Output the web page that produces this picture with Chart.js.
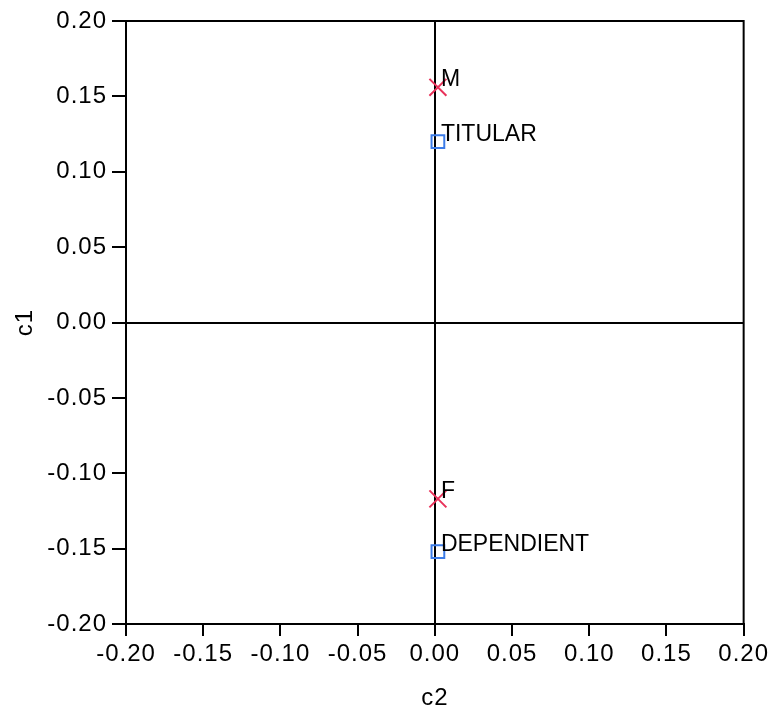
<!DOCTYPE html>
<html><head><meta charset="utf-8">
<script src="https://cdn.jsdelivr.net/npm/chart.js@4/dist/chart.umd.min.js"></script>
<style>html,body{margin:0;padding:0;background:#fff}#wrap{width:773px;height:713px}</style>
</head><body><div id="wrap"><canvas id="c"></canvas></div>
<script>
const sexLabels = ['M', 'F'];
const sexC2 = [0.002, 0.002];
const sexC1 = [0.156, -0.117];
const typeLabels = ['TITULAR', 'DEPENDIENT'];
const typeC2 = [0.002, 0.002];
const typeC1 = [0.120, -0.152];
const tickValues = [-0.20, -0.15, -0.10, -0.05, 0.00, 0.05, 0.10, 0.15, 0.20];

const FONT = '"Liberation Sans", Arial, Helvetica, sans-serif';
const FS = 24;
const LFS = 23;

const spacingPlugin = {
  id: 'spacing',
  beforeUpdate(chart) { chart.ctx.letterSpacing = '1px'; },
  beforeDraw(chart) { chart.ctx.letterSpacing = '1px'; }
};

const framePlugin = {
  id: 'frame',
  afterDatasetsDraw(chart) {
    const {ctx, chartArea: a} = chart;
    ctx.save();
    ctx.strokeStyle = '#000'; ctx.lineWidth = 2;
    ctx.strokeRect(a.left, a.top, a.right - a.left, a.bottom - a.top);
    ctx.fillStyle = '#000';
    ctx.letterSpacing = '0px';
    ctx.font = LFS + 'px ' + FONT;
    ctx.textAlign = 'left'; ctx.textBaseline = 'alphabetic';
    chart.data.datasets.forEach((ds, i) => {
      const meta = chart.getDatasetMeta(i);
      meta.data.forEach((el, j) => {
        ctx.fillText(ds.pointLabels[j], el.x + 3, el.y - 1);
      });
    });
    ctx.restore();
  }
};

const mk = (xs, ys) => xs.map((x, i) => ({x, y: ys[i]}));

new Chart(document.getElementById('c'), {
  type: 'scatter',
  data: {
    datasets: [
      { data: mk(sexC2, sexC1), pointLabels: sexLabels, pointStyle: 'crossRot', radius: 12,
        borderColor: '#e8325a', backgroundColor: '#e8325a', borderWidth: 2 },
      { data: mk(typeC2, typeC1), pointLabels: typeLabels, pointStyle: 'rect', radius: 9,
        borderColor: '#3c7ce8', backgroundColor: 'transparent', borderWidth: 2 }
    ]
  },
  options: {
    responsive: true, maintainAspectRatio: false, animation: false,
    layout: { padding: { top: 21, right: 28, left: 0, bottom: 0 } },
    plugins: { legend: { display: false }, tooltip: { enabled: false } },
    scales: {
      x: {
        min: -0.2, max: 0.2,
        afterBuildTicks: s => { s.ticks = tickValues.map(v => ({value: v})); },
        afterFit: s => { s.height = 89; },
        ticks: { color: '#000', font: { family: FONT, size: FS }, padding: 4,
          callback: v => v.toFixed(2), maxRotation: 0, autoSkip: false },
        grid: { drawOnChartArea: true, lineWidth: 2, tickLength: 12, tickColor: '#000',
          color: c => (c.tick && Math.abs(c.tick.value) < 1e-9) ? '#000' : 'rgba(0,0,0,0)' },
        border: { display: true, color: '#000', width: 2 },
        title: { display: true, text: 'c2', color: '#000', font: { family: FONT, size: FS }, padding: { top: 0, bottom: 0 } }
      },
      y: {
        min: -0.2, max: 0.2,
        afterBuildTicks: s => { s.ticks = tickValues.map(v => ({value: v})); },
        afterFit: s => { s.width = 126; },
        ticks: { color: '#000', font: { family: FONT, size: FS }, padding: 5,
          callback: v => v.toFixed(2), autoSkip: false },
        grid: { drawOnChartArea: true, lineWidth: 2, tickLength: 14, tickColor: '#000',
          color: c => (c.tick && Math.abs(c.tick.value) < 1e-9) ? '#000' : 'rgba(0,0,0,0)' },
        border: { display: true, color: '#000', width: 2 },
        title: { display: true, text: 'c1', color: '#000', font: { family: FONT, size: FS }, padding: { top: 11, bottom: 11 } }
      }
    }
  },
  plugins: [spacingPlugin, framePlugin]
});
</script></body></html>
